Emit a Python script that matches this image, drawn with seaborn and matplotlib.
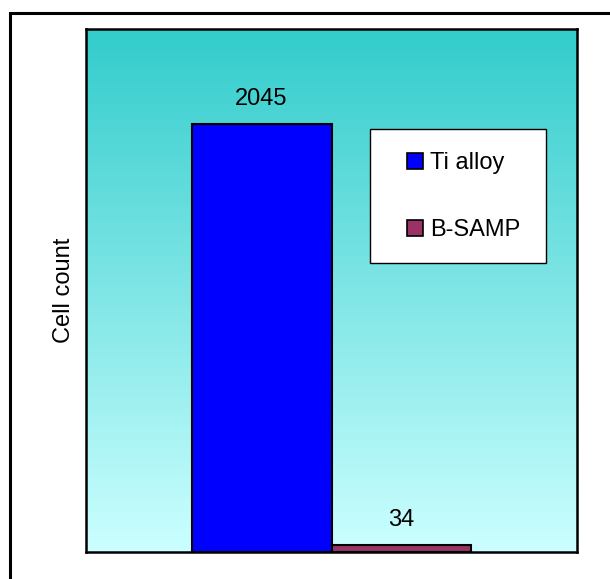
import matplotlib
matplotlib.use("Agg")
import matplotlib.pyplot as plt
import seaborn as sns
import numpy as np
import pandas as pd
from matplotlib.colors import LinearSegmentedColormap
from matplotlib.patches import Rectangle, Patch

groups = ["Ti alloy", "B-SAMP"]
values = [2045, 34]
colors = ["#0000FF", "#993366"]

sns.set_style("white")
plt.rcParams['font.family'] = ['Liberation Sans', 'DejaVu Sans']
plt.rcParams['text.color'] = 'black'
plt.rcParams['axes.labelcolor'] = 'black'

df = pd.DataFrame({"cat": ["all", "all"], "group": groups, "value": values})

W, H = 610, 579
fig = plt.figure(figsize=(6.1, 5.79), dpi=100)
ax_l, ax_r, ax_t, ax_b = 86, 577, 29, 552
ax = fig.add_axes([ax_l/W, 1-ax_b/H, (ax_r-ax_l)/W, (ax_b-ax_t)/H])

def axx(px):
    return (px - ax_l) / (ax_r - ax_l)

def axy(py):
    return 1 - (py - ax_t) / (ax_b - ax_t)

# gradient background
cmap = LinearSegmentedColormap.from_list("bg", ["#CCFFFF", "#33CCCC"])
grad = np.linspace(0, 1, 256).reshape(-1, 1)
ax.imshow(grad, aspect="auto", cmap=cmap, origin="lower",
          extent=[-0.5, 0.5, 0, 2500], zorder=0)

sns.barplot(data=df, x="cat", y="value", hue="group", palette=colors,
            width=0.57, edgecolor="black", linewidth=1.5, ax=ax,
            legend=False, zorder=2, saturation=1)

ax.set_xlim(-0.5, 0.5)
ax.set_ylim(0, 2500)
ax.set_xticks([])
ax.set_yticks([])
ax.set_xlabel("")
ax.set_ylabel("Cell count", fontsize=17, labelpad=8, color="black")
for s in ax.spines.values():
    s.set_visible(True)
    s.set_color("black")
    s.set_linewidth(1.8)

for cont in ax.containers:
    ax.bar_label(cont, padding=10, fontsize=17, color="black")

# legend box
ax.add_patch(Rectangle((axx(370), axy(263)), axx(546)-axx(370), axy(129)-axy(263),
                       transform=ax.transAxes, facecolor="white",
                       edgecolor="black", linewidth=1.0, zorder=4))
handles = [Patch(facecolor=c, edgecolor="black", linewidth=1.2, label=g)
           for c, g in zip(colors, groups)]
leg = ax.legend(handles=handles, loc="center left",
                bbox_to_anchor=(axx(407), axy(196.5)),
                fontsize=17, frameon=False, labelcolor="black",
                handlelength=0.67, handleheight=0.67,
                handletextpad=0.3, labelspacing=1.92, borderpad=0,
                borderaxespad=0)
leg.set_zorder(5)

# outer frame
fig.patches.append(Rectangle((10/W, -0.1), 1.2, 1-13/H+0.1,
                             transform=fig.transFigure, fill=False,
                             edgecolor="black", linewidth=2.2))

fig.savefig("out.png", dpi=100)
